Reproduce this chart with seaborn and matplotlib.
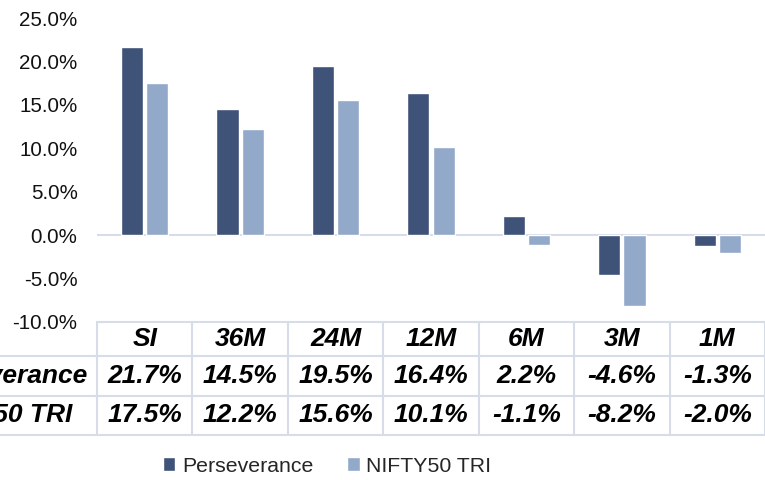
import pandas as pd
import seaborn as sns
import matplotlib.pyplot as plt
from matplotlib.lines import Line2D
from matplotlib.transforms import blended_transform_factory

# data
periods = ['SI', '36M', '24M', '12M', '6M', '3M', '1M']
perseverance = [21.7, 14.5, 19.5, 16.4, 2.2, -4.6, -1.3]
nifty50_tri = [17.5, 12.2, 15.6, 10.1, -1.1, -8.2, -2.0]
series_names = ['Perseverance', 'NIFTY50 TRI']
y_ticks = [-10, -5, 0, 5, 10, 15, 20, 25]

colors = {'Perseverance': '#3F5277', 'NIFTY50 TRI': '#93A9C9'}
line_col = '#D6DCE8'

df = pd.DataFrame({
    'period': periods * 2,
    'series': [series_names[0]] * len(periods) + [series_names[1]] * len(periods),
    'ret': perseverance + nifty50_tri,
})

sns.set_style('white')
plt.rcParams['font.family'] = ['Liberation Sans', 'DejaVu Sans']

W, H = 765, 480
fig = plt.figure(figsize=(W / 100, H / 100), dpi=100)
ax = fig.add_axes([97 / W, 1 - 322 / H, 1 - 97 / W, (322 - 18) / H])

sns.barplot(data=df, x='period', y='ret', hue='series', order=periods,
            hue_order=series_names, palette=colors, saturation=1,
            width=0.53, gap=0.12, ax=ax)

handles, labels = ax.get_legend_handles_labels()
ax.legend_.remove()

ax.set_xlim(-0.5, len(periods) - 0.5)
ax.set_ylim(-10, 25)
ax.set_yticks(y_ticks)
ax.set_yticklabels([f'{t:.1f}%' for t in y_ticks])
ax.set_xticks([])
ax.set_xlabel('')
ax.set_ylabel('')
ax.tick_params(axis='y', length=0, pad=14, labelsize=14.8, labelcolor='#111111')
for s in ax.spines.values():
    s.set_visible(False)
ax.axhline(0, color=line_col, lw=1.5, zorder=0)

################################ data table ####################################
fy = lambda py: 1 - py / H
trans = blended_transform_factory(ax.transData, fig.transFigure)
row_y = [322, 356, 396, 435]

# top line only under the plot, the others run to the left edge
fig.add_artist(Line2D([97 / W, 1], [fy(row_y[0])] * 2, color=line_col, lw=1.5))
for py in row_y[1:]:
    fig.add_artist(Line2D([0, 1], [fy(py)] * 2, color=line_col, lw=1.5))
for i in range(len(periods) + 1):
    fig.add_artist(Line2D([i - 0.5] * 2, [fy(row_y[0]), fy(row_y[-1])],
                          transform=trans, color=line_col, lw=1.5))

cell_font = dict(fontsize=19, fontweight='bold', fontstyle='italic',
                 ha='center', va='center', color='black')
for i, p in enumerate(periods):
    fig.text(i, fy(339), p, transform=trans, **cell_font)
    fig.text(i, fy(376), f'{perseverance[i]:.1f}%', transform=trans, **cell_font)
    fig.text(i, fy(415.5), f'{nifty50_tri[i]:.1f}%', transform=trans, **cell_font)

# row labels are partly cut off at the left edge, as in the original
label_font = dict(fontsize=19, fontweight='bold', fontstyle='italic',
                  ha='right', va='center', color='black')
fig.text(88 / W, fy(376), series_names[0], **label_font)
fig.text(72 / W, fy(415.5), series_names[1], **label_font)

fig.legend(handles, labels, loc='center', bbox_to_anchor=(327 / W, fy(466)),
           ncol=2, frameon=False, fontsize=15.3, handlelength=0.6,
           handleheight=0.6, handletextpad=0.3, columnspacing=1.6)

fig.savefig('out.png', dpi=100)
